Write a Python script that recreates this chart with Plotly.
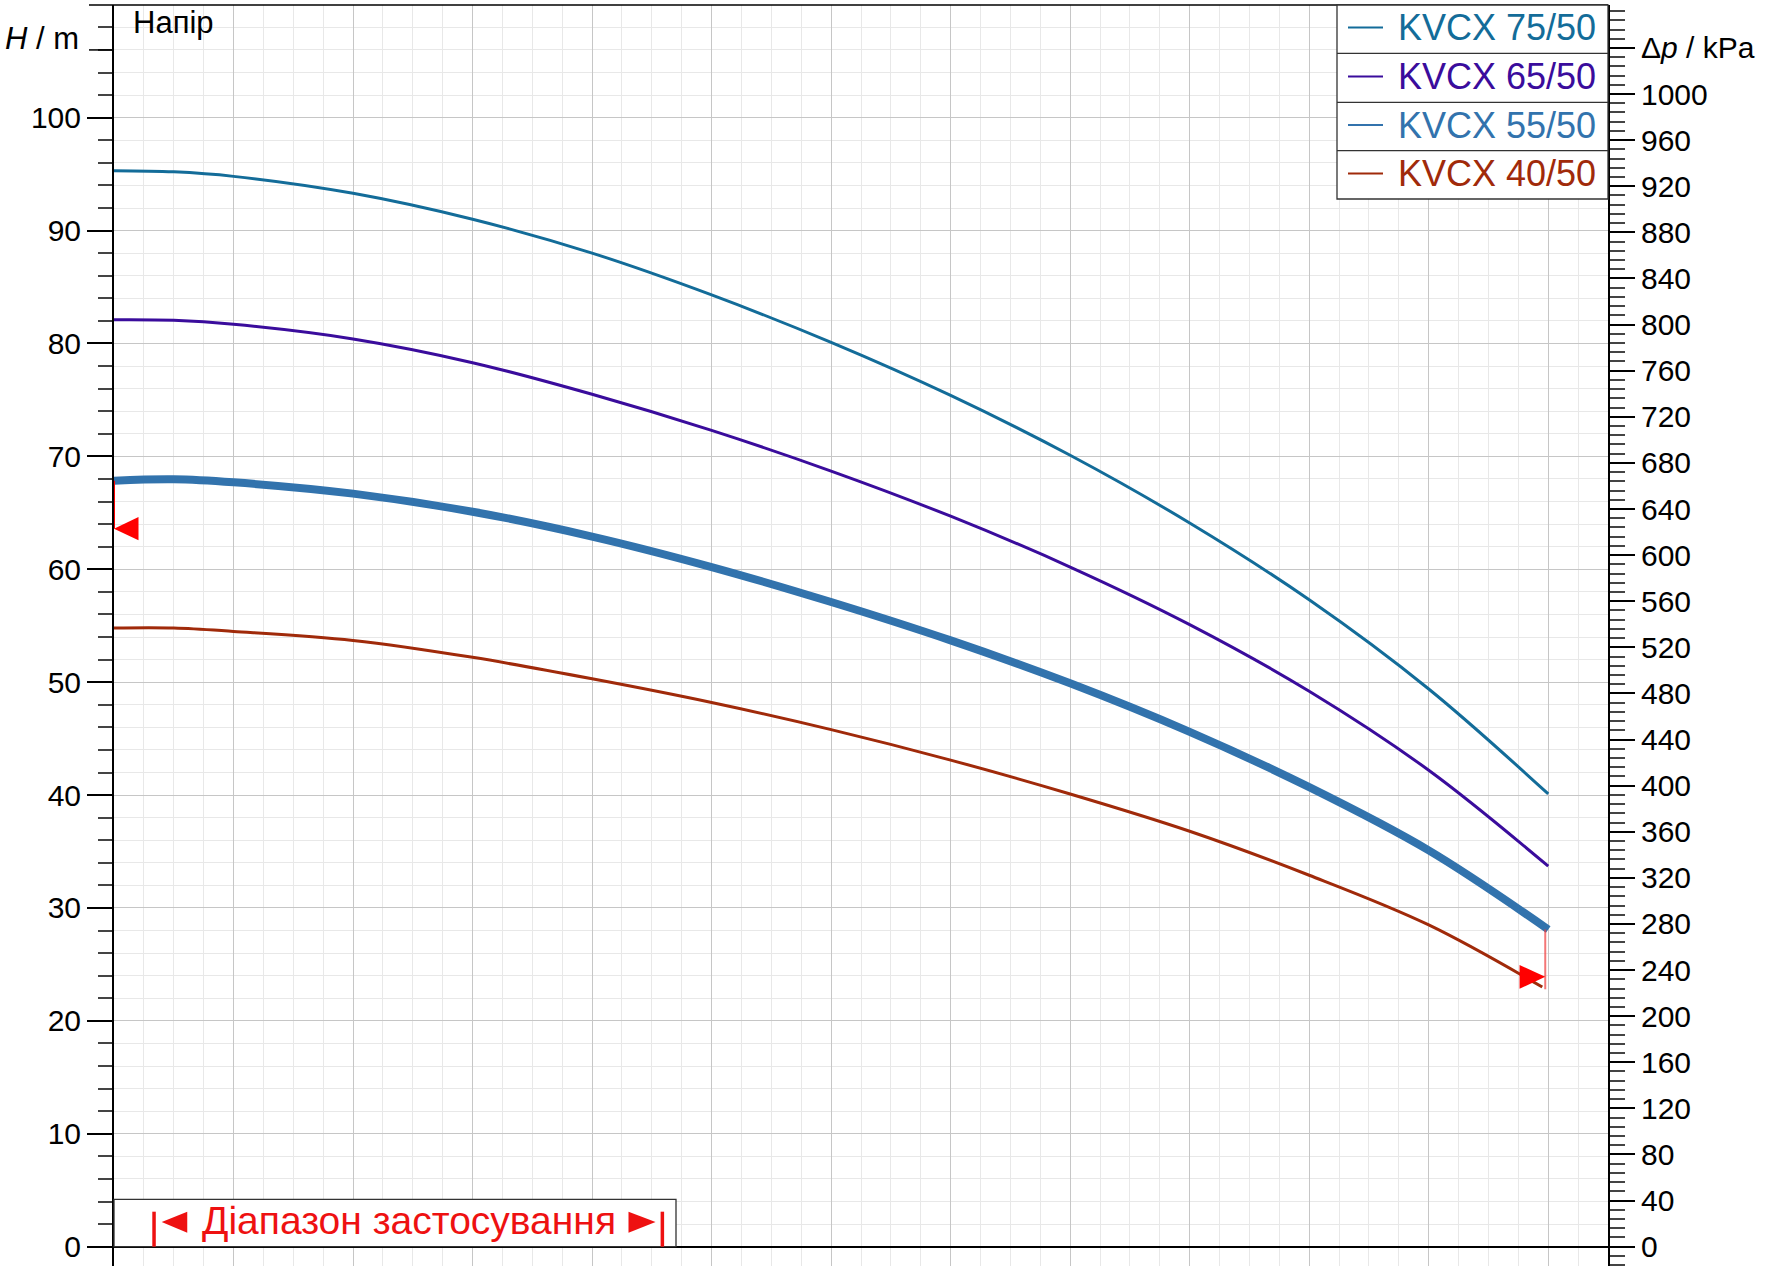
import plotly.graph_objects as go

# ---------------- data ----------------
q = [0, 0.5, 1, 2, 3, 4, 5, 6, 7, 8, 9, 10, 11, 12]
h_75 = [95.3, 95.2, 94.8, 93.3, 91.0, 88.0, 84.3, 80.1, 75.4, 70.1, 64.1, 57.3, 49.4, 40.1]
h_65 = [82.1, 82.05, 81.7, 80.4, 78.3, 75.5, 72.3, 68.7, 64.7, 60.2, 55.1, 49.2, 42.2, 33.7]
h_55 = [67.85, 67.97, 67.7, 66.7, 65.1, 62.9, 60.2, 57.1, 53.7, 49.9, 45.6, 40.7, 35.1, 28.1]
q_40 = [0, 0.5, 1, 2, 3, 4, 5, 6, 7, 8, 9, 10, 11, 11.95]
h_40 = [54.8, 54.8, 54.5, 53.7, 52.2, 50.3, 48.2, 45.8, 43.1, 40.1, 36.8, 32.9, 28.5, 23.0]

series_names = ["KVCX 75/50", "KVCX 65/50", "KVCX 55/50", "KVCX 40/50"]
series_colors = ["#136c99", "#3a0c9c", "#3273ad", "#a02a0a"]
series_widths = [3, 3, 8, 3]

# operating range limits (left: min at Q=0, right: end of curve)
limit_q = [0.0, 11.975]
limit_h = [63.6, 23.9]
limit_top = [67.85, 28.1]
limit_bottom = [63.6, 22.8]

kpa_per_m = 9.795
right_ticks = list(range(0, 1001, 40)) + [1040]
right_ticktext = [str(v) for v in range(0, 1001, 40)] + ["\u0394<i>p</i> / kPa"]

# ---------------- geometry helpers ----------------
W, H = 1766, 1266
ML, MR, MT, MB = 114, 158, 5, 0
PW, PH = W - ML - MR, H - MT - MB
FONT = "Liberation Sans, Arial, sans-serif"


def px_x(x):
    return (x - ML) / PW


def px_y(y):
    return 1 - (y - MT) / PH


y_range = [-1.71, 109.98]

fig = go.Figure()

xs = [q, q, q, q_40]
ys = [h_75, h_65, h_55, h_40]
for name, xv, yv, c, w in zip(series_names, xs, ys, series_colors, series_widths):
    fig.add_trace(go.Scatter(x=xv, y=yv, mode="lines", name=name,
                             line=dict(color=c, width=w, shape="spline", smoothing=1.0)))

# invisible trace on the pressure axis so it is rendered
fig.add_trace(go.Scatter(x=q, y=[v * kpa_per_m for v in h_55], yaxis="y2", mode="lines",
                         line=dict(width=0, color="rgba(0,0,0,0)"), hoverinfo="skip",
                         showlegend=False))

shapes = []
# operating range vertical lines
shapes.append(dict(type="line", xref="x", yref="y", x0=limit_q[0], x1=limit_q[0],
                   y0=limit_bottom[0], y1=limit_top[0], line=dict(color="red", width=2)))
shapes.append(dict(type="line", xref="x", yref="y", x0=limit_q[1], x1=limit_q[1],
                   y0=limit_bottom[1], y1=limit_top[1],
                   line=dict(color="rgba(240,60,60,0.7)", width=2)))
# operating range arrows
tq, th = limit_q[0], limit_h[0]
shapes.append(dict(type="path", xref="x", yref="y", layer="above",
                   path=f"M {tq},{th} L {tq + 0.205},{th + 1.03} L {tq + 0.205},{th - 1.03} Z",
                   fillcolor="red", line=dict(width=0)))
tq, th = limit_q[1], limit_h[1]
shapes.append(dict(type="path", xref="x", yref="y", layer="above",
                   path=f"M {tq},{th} L {tq - 0.215},{th + 1.05} L {tq - 0.215},{th - 1.05} Z",
                   fillcolor="red", line=dict(width=0)))

# top frame line
shapes.append(dict(type="line", xref="paper", yref="paper", x0=px_x(89), x1=1, y0=1, y1=1,
                   line=dict(color="black", width=1.5)))
# long tick next to H / m
shapes.append(dict(type="line", xref="paper", yref="y", x0=px_x(89), x1=0, y0=106, y1=106,
                   line=dict(color="black", width=1.5)))

# legend box
lx0, lx1 = px_x(1337), 1.0
row_edges = [5, 53.3, 102.3, 150.7, 199]
shapes.append(dict(type="rect", xref="paper", yref="paper", x0=lx0, x1=lx1,
                   y0=px_y(row_edges[-1]), y1=px_y(row_edges[0]), fillcolor="white",
                   line=dict(color="#333333", width=1.3), layer="above"))
for e in row_edges[1:-1]:
    shapes.append(dict(type="line", xref="paper", yref="paper", x0=lx0, x1=lx1,
                       y0=px_y(e), y1=px_y(e), line=dict(color="#333333", width=1.3),
                       layer="above"))

annotations = []
row_centres = [27.5, 76.5, 125, 173.5]
for name, c, yc in zip(series_names, series_colors, row_centres):
    shapes.append(dict(type="line", xref="paper", yref="paper", x0=px_x(1348), x1=px_x(1383),
                       y0=px_y(yc), y1=px_y(yc), line=dict(color=c, width=2), layer="above"))
    annotations.append(dict(xref="paper", yref="paper", x=px_x(1598), y=px_y(yc),
                            xanchor="right", yanchor="middle", showarrow=False, text=name,
                            font=dict(size=36, color=c, family=FONT)))

# application range box at the bottom
shapes.append(dict(type="rect", xref="paper", yref="y", x0=0, x1=px_x(676), y0=0, y1=4.2,
                   fillcolor="white", line=dict(color="#333333", width=1.3), layer="above"))
red = "#ee1111"
for bx in [0.335, 4.588]:
    shapes.append(dict(type="line", xref="x", yref="y", x0=bx, x1=bx, y0=0, y1=3.1,
                       line=dict(color=red, width=3.5), layer="above"))
shapes.append(dict(type="path", xref="x", yref="y", layer="above",
                   path="M 0.399,2.19 L 0.613,3.10 L 0.613,1.24 Z", fillcolor=red,
                   line=dict(width=0)))
shapes.append(dict(type="path", xref="x", yref="y", layer="above",
                   path="M 4.531,2.19 L 4.305,3.10 L 4.305,1.24 Z", fillcolor=red,
                   line=dict(width=0)))
annotations.append(dict(xref="x", yref="y", x=2.469, y=2.3, xanchor="center", yanchor="middle",
                        showarrow=False, text="Діапазон застосування",
                        font=dict(size=39, color=red, family=FONT)))

annotations.append(dict(xref="paper", yref="paper", x=px_x(131), y=px_y(23),
                        xanchor="left", yanchor="middle", showarrow=False, text="Напір",
                        font=dict(size=31, color="black", family=FONT)))
annotations.append(dict(xref="paper", yref="paper", x=px_x(81), y=px_y(38),
                        xanchor="right", yanchor="middle", showarrow=False,
                        text="<i>H</i> / m", font=dict(size=31, color="black", family=FONT)))

fig.update_layout(
    width=W, height=H,
    margin=dict(l=ML, r=MR, t=MT, b=MB, pad=0),
    paper_bgcolor="white", plot_bgcolor="white",
    font=dict(family=FONT, size=30, color="black"),
    showlegend=False,
    xaxis=dict(range=[0, 12.5], showticklabels=False, ticks="", showline=False,
               zeroline=False, showgrid=True, tick0=0, dtick=1, gridcolor="#c6c6c6",
               gridwidth=1,
               minor=dict(tick0=0, dtick=0.25, showgrid=True, gridcolor="#e8e8e8", gridwidth=1)),
    yaxis=dict(range=y_range, tickmode="linear", tick0=0, dtick=10, ticks="outside",
               ticklen=25, tickwidth=1.5, tickcolor="black", showline=True, linecolor="black",
               linewidth=2, showgrid=True, gridcolor="#c6c6c6", gridwidth=1, zeroline=True,
               zerolinecolor="black", zerolinewidth=1.5, ticklabelstandoff=0,
               tickfont=dict(size=30, family=FONT),
               minor=dict(tick0=0, dtick=2, ticks="outside", ticklen=14, tickwidth=1.5,
                          tickcolor="#444444", showgrid=True, gridcolor="#e8e8e8",
                          gridwidth=1)),
    yaxis2=dict(overlaying="y", side="right", anchor="x",
                range=[y_range[0] * kpa_per_m, y_range[1] * kpa_per_m],
                tickmode="array", tickvals=right_ticks, ticktext=right_ticktext,
                ticks="outside", ticklen=25, tickwidth=1.5, tickcolor="black",
                showline=True, linecolor="black", linewidth=2, showgrid=False,
                zeroline=False, ticklabelstandoff=0, tickfont=dict(size=30, family=FONT),
                minor=dict(tickmode="linear", tick0=0, dtick=8, ticks="outside", ticklen=15,
                           tickwidth=1.5, tickcolor="#444444", showgrid=False)),
    shapes=shapes,
    annotations=annotations,
)

fig.write_html("out.html")
